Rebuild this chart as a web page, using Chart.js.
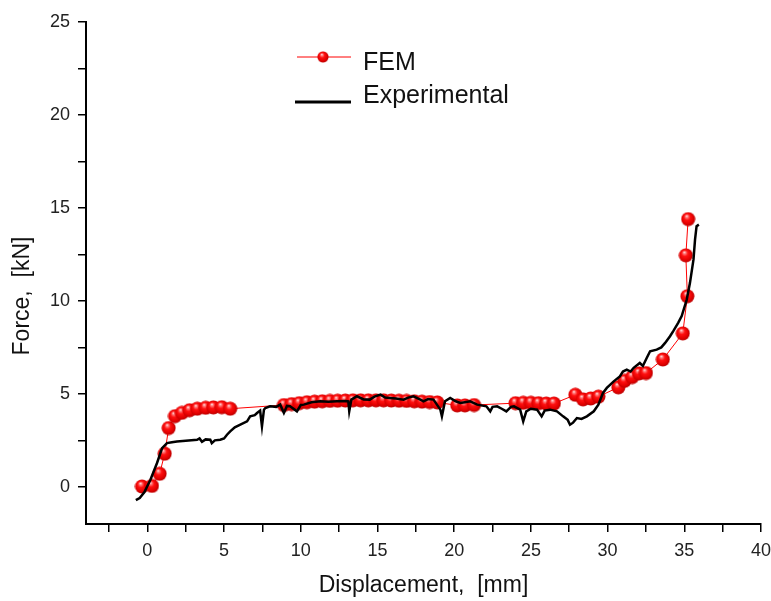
<!DOCTYPE html>
<html>
<head>
<meta charset="utf-8">
<script src="https://cdn.jsdelivr.net/npm/chart.js@4.4.1/dist/chart.umd.min.js"></script>
<style>
body { margin: 0; background: #fff; }
#wrap { width: 771px; height: 601px; }
</style>
</head>
<body>
<div id="wrap"><canvas id="myChart" width="771" height="601"></canvas></div>
<script>
// FEM simulation points (displacement mm, force kN)
const femX = [-0.35, 0.3, 0.8, 1.13, 1.39, 1.8, 2.25, 2.75, 3.25, 3.8, 4.3, 4.85, 5.4,
  8.9, 9.4, 9.9, 10.4, 10.9, 11.4, 11.9, 12.4, 12.9, 13.4, 13.9, 14.4, 14.9, 15.4, 15.9, 16.4, 16.9, 17.4, 17.9, 18.4, 18.9,
  20.2, 20.7, 21.3,
  24.0, 24.5, 25.0, 25.5, 26.0, 26.5,
  27.9, 28.4, 28.9, 29.4,
  30.7, 31.1, 31.6, 32.05, 32.5,
  33.6, 34.9, 35.2, 35.1, 35.25];
const femY = [0.02, 0.05, 0.7, 1.78, 3.16, 3.8, 3.98, 4.12, 4.2, 4.25, 4.27, 4.28, 4.2,
  4.4, 4.45, 4.5, 4.55, 4.58, 4.6, 4.62, 4.63, 4.64, 4.65, 4.65, 4.65, 4.65, 4.65, 4.64, 4.63, 4.62, 4.6, 4.58, 4.56, 4.54,
  4.38, 4.38, 4.4,
  4.5, 4.52, 4.52, 4.5, 4.48, 4.48,
  4.95, 4.7, 4.75, 4.85,
  5.35, 5.7, 5.9, 6.1, 6.12,
  6.85, 8.25, 10.25, 12.45, 14.4];

// experimental curve
const expX = [-0.75, -0.5, -0.2, 0.2, 0.63, 0.96, 1.28, 1.6, 1.93, 2.5, 3.24, 3.4, 3.56, 3.8, 4.1, 4.2, 4.4, 4.75, 5.0, 5.19,
  5.4, 5.7, 6.06, 6.5, 6.7, 7.0, 7.15, 7.35, 7.47, 7.6, 7.69, 8.0, 8.4, 8.66, 8.9, 9.1, 9.3, 9.75, 10.0, 10.2,
  10.7, 11.27, 11.8, 12.36, 12.9, 13.1, 13.16, 13.3, 13.66, 14.1, 14.5, 14.8, 15.2, 15.5, 15.8, 16.2, 16.7, 17.0, 17.35, 17.8,
  18.0, 18.3, 18.65, 19.1, 19.2, 19.4, 19.74, 20.1, 20.4, 20.7, 21.04, 21.5, 22.1, 22.35, 22.5, 22.8, 23.1, 23.4, 23.7, 23.9,
  24.3, 24.5, 24.7, 25.0, 25.4, 25.7, 25.9, 26.25, 26.7, 27.1, 27.4, 27.55, 27.75, 28.0, 28.3, 28.65, 29.1, 29.4, 29.7, 29.95,
  30.4, 30.8, 31.0, 31.25, 31.5, 31.7, 32.1, 32.3, 32.55, 32.77, 33.2, 33.5, 33.75, 34.07, 34.3, 34.6, 34.83, 35.16, 35.37, 35.6,
  35.7, 35.8, 35.95];
const expY = [-0.72, -0.6, -0.3, 0.38, 1.28, 2.08, 2.35, 2.4, 2.44, 2.48, 2.53, 2.6, 2.42, 2.55, 2.53, 2.35, 2.5, 2.53, 2.6, 2.8,
  2.98, 3.2, 3.34, 3.52, 3.79, 3.85, 3.97, 4.1, 3.25, 4.15, 4.24, 4.33, 4.3, 4.42, 3.97, 4.35, 4.33, 4.06, 4.4, 4.42,
  4.55, 4.6, 4.58, 4.6, 4.62, 4.6, 4.06, 4.69, 4.87, 4.7, 4.69, 4.85, 4.96, 4.8, 4.78, 4.75, 4.69, 4.8, 4.87, 4.69,
  4.6, 4.72, 4.69, 4.15, 3.79, 4.6, 4.78, 4.6, 4.51, 4.55, 4.6, 4.42, 4.33, 4.06, 4.3, 4.33, 4.2, 4.06, 4.3, 4.33,
  4.15, 3.52, 4.06, 4.2, 4.15, 3.79, 4.1, 4.15, 4.06, 3.79, 3.6, 3.34, 3.45, 3.7, 3.65, 3.79, 4.06, 4.42, 5.05, 5.32,
  5.67, 5.94, 6.2, 6.3, 6.2, 6.4, 6.66, 6.5, 6.93, 7.29, 7.38, 7.5, 7.74, 8.1, 8.4, 8.82, 9.18, 10.07, 10.97, 12.23,
  13.3, 14.02, 14.1];

const xTicks = [-2.5, 0, 2.5, 5, 7.5, 10, 12.5, 15, 17.5, 20, 22.5, 25, 27.5, 30, 32.5, 35, 37.5, 40];
const yTicks = [0, 2.5, 5, 7.5, 10, 12.5, 15, 17.5, 20, 22.5, 25];

const FONT = '"Liberation Sans", Arial, sans-serif';

// shaded red ball used as the FEM marker
function makeBall(r) {
  const c = document.createElement('canvas');
  c.width = c.height = r * 2 + 1;
  const g = c.getContext('2d');
  const grad = g.createRadialGradient(r * 0.85, r * 0.6, 0, r, r, r);
  grad.addColorStop(0, '#ffffff');
  grad.addColorStop(0.18, '#ff8080');
  grad.addColorStop(0.45, '#ff1010');
  grad.addColorStop(0.85, '#e00000');
  grad.addColorStop(1, '#c00000');
  g.fillStyle = grad;
  g.beginPath();
  g.arc(r + 0.5, r + 0.5, r, 0, Math.PI * 2);
  g.fill();
  return c;
}
const ball = makeBall(7);

const femData = femX.map((x, i) => ({x: x, y: femY[i]}));
const expData = expX.map((x, i) => ({x: x, y: expY[i]}));

const extras = {
  id: 'extras',
  afterDraw(chart) {
    const ctx = chart.ctx;
    ctx.save();
    // y axis title
    ctx.translate(23, 296);
    ctx.rotate(-Math.PI / 2);
    ctx.font = '23px ' + FONT;
    ctx.fillStyle = '#111';
    ctx.textAlign = 'center';
    ctx.textBaseline = 'middle';
    ctx.fillText('Force,  [kN]', 0, 0);
    ctx.restore();

    // legend
    ctx.save();
    ctx.strokeStyle = '#ff0000';
    ctx.lineWidth = 1;
    ctx.beginPath();
    ctx.moveTo(297, 57);
    ctx.lineTo(351, 57);
    ctx.stroke();
    ctx.drawImage(ball, 323 - 6, 57 - 6, 12, 12);
    ctx.strokeStyle = '#000';
    ctx.lineWidth = 3;
    ctx.beginPath();
    ctx.moveTo(295, 102);
    ctx.lineTo(351, 102);
    ctx.stroke();
    ctx.font = '25px ' + FONT;
    ctx.fillStyle = '#111';
    ctx.textBaseline = 'middle';
    ctx.fillText('FEM', 363, 63);
    ctx.fillText('Experimental', 363, 96);
    ctx.restore();
  }
};

const ctx = document.getElementById('myChart');
const myChart = new Chart(ctx, {
  type: 'scatter',
  data: {
    datasets: [{
      label: 'Experimental',
      data: expData,
      showLine: true,
      borderColor: '#000',
      borderWidth: 2.5,
      pointRadius: 0,
      order: 0
    }, {
      label: 'FEM',
      data: femData,
      showLine: true,
      borderColor: '#ff0000',
      borderWidth: 1,
      pointStyle: ball,
      pointRadius: 7,
      order: 1
    }]
  },
  options: {
    responsive: false,
    animation: false,
    layout: { padding: { top: 22, right: 10, left: 0, bottom: 0 } },
    plugins: {
      legend: { display: false },
      tooltip: { enabled: false }
    },
    scales: {
      x: {
        type: 'linear',
        min: -4,
        max: 40,
        afterBuildTicks: s => { s.ticks = xTicks.map(v => ({value: v})); },
        afterFit: s => { s.height = 77; s.paddingLeft = 0; s.paddingRight = 0; },
        border: { display: true, color: '#000', width: 2 },
        grid: { drawOnChartArea: false, drawTicks: true, tickLength: 8, color: '#000', lineWidth: 1.5 },
        ticks: {
          autoSkip: false,
          maxRotation: 0,
          padding: 8,
          color: '#222',
          font: { family: FONT, size: 18 },
          callback: v => (v % 5 === 0 ? v : '')
        },
        title: {
          display: true,
          text: 'Displacement,  [mm]',
          color: '#111',
          font: { family: FONT, size: 23 },
          padding: { top: 0, bottom: 2 }
        }
      },
      y: {
        type: 'linear',
        min: -2,
        max: 25,
        afterBuildTicks: s => { s.ticks = yTicks.map(v => ({value: v})); },
        afterFit: s => { s.width = 86; },
        border: { display: true, color: '#000', width: 2 },
        grid: { drawOnChartArea: false, drawTicks: true, tickLength: 8, color: '#000', lineWidth: 1.5 },
        ticks: {
          autoSkip: false,
          padding: 8,
          color: '#222',
          font: { family: FONT, size: 18 },
          callback: v => (v % 5 === 0 ? v : '')
        }
      }
    }
  },
  plugins: [extras]
});
</script>
</body>
</html>
